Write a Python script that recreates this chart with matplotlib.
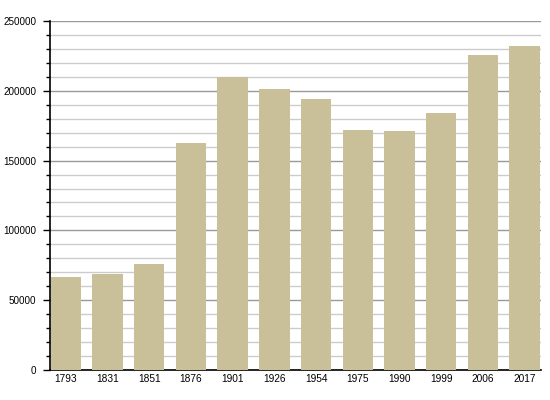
import matplotlib
matplotlib.use("Agg")
import matplotlib.pyplot as plt
from matplotlib.ticker import MultipleLocator

# Population par année de recensement
annees = ["1793", "1831", "1851", "1876", "1901", "1926", "1954",
          "1975", "1990", "1999", "2006", "2017"]
population = [66400, 68600, 75700, 162800, 210000, 201500, 194300,
              172000, 171400, 184300, 225700, 232000]

plt.rcParams["font.family"] = ["Liberation Sans", "DejaVu Sans"]

fig = plt.figure(figsize=(5.5, 4), dpi=100)
ax = fig.add_axes([0.091, 0.075, 0.893, 0.8725])

x = range(len(annees))
ax.bar(x, population, width=0.73, color="#c9bf98", zorder=3)

ax.set_xlim(-0.38, len(annees) - 1 + 0.40)
ax.set_ylim(0, 250000)
ax.set_xticks(list(x))
ax.set_xticklabels(annees)
ax.yaxis.set_major_locator(MultipleLocator(50000))
ax.yaxis.set_minor_locator(MultipleLocator(10000))

ax.grid(which="major", axis="y", color="#999999", lw=1.0, zorder=0)
ax.grid(which="minor", axis="y", color="#cccccc", lw=1.0, zorder=0)

for s in ["top", "right"]:
    ax.spines[s].set_visible(False)
ax.spines["left"].set_linewidth(1.2)
ax.spines["bottom"].set_linewidth(1.2)

ax.tick_params(axis="y", which="major", length=5, width=1, labelsize=7.1, pad=5)
ax.tick_params(axis="y", which="minor", length=3, width=1)
ax.tick_params(axis="x", length=0, labelsize=7.3, pad=3)

fig.savefig("out.png", dpi=100)
